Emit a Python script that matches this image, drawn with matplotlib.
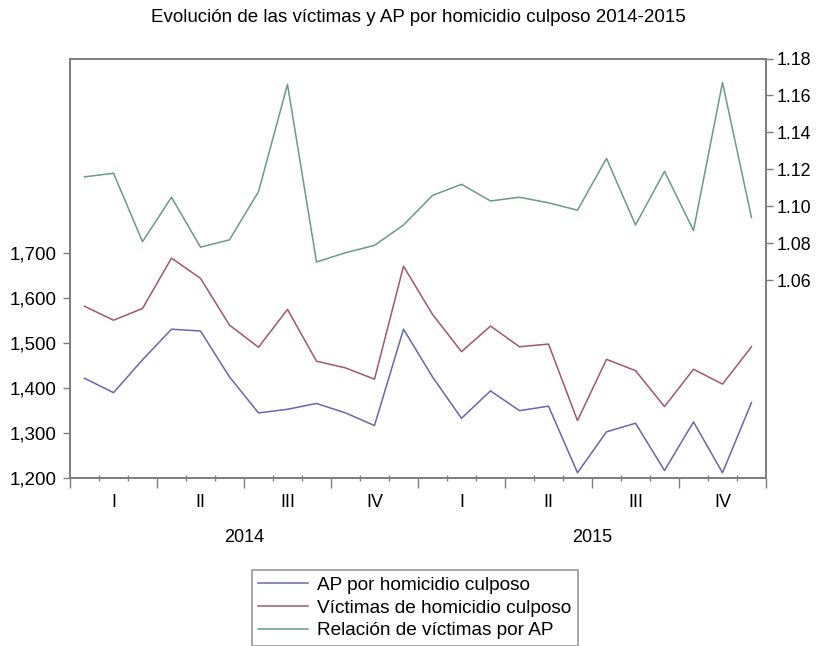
import matplotlib
matplotlib.use("Agg")
import matplotlib.pyplot as plt
import matplotlib.transforms as mtransforms
from matplotlib.ticker import FuncFormatter

plt.rcParams['font.family'] = ['Liberation Sans', 'DejaVu Sans']

# monthly data, Jan 2014 .. Dec 2015
ap = [1421, 1389, 1462, 1530, 1526, 1424, 1344, 1352, 1365, 1344, 1316, 1530,
      1424, 1332, 1393, 1349, 1359, 1211, 1302, 1321, 1216, 1324, 1211, 1367]
victimas = [1581, 1550, 1576, 1688, 1643, 1539, 1490, 1574, 1459, 1444, 1419, 1670,
            1563, 1480, 1537, 1491, 1497, 1327, 1463, 1438, 1358, 1441, 1408, 1491]
relacion = [1.116, 1.118, 1.081, 1.105, 1.078, 1.082, 1.108, 1.166, 1.070, 1.075, 1.079, 1.090,
            1.106, 1.112, 1.103, 1.105, 1.102, 1.098, 1.126, 1.090, 1.119, 1.087, 1.167, 1.094]
quarters = ['I', 'II', 'III', 'IV']
years = ['2014', '2015']
labels = ['AP por homicidio culposo', 'Víctimas de homicidio culposo', 'Relación de víctimas por AP']

c_blue = '#6668ac'
c_red = '#a0586a'
c_green = '#6a9c7e'
frame = '#7f7f7f'

fig = plt.figure(figsize=(8.21, 6.46), dpi=100)
W, H = 821, 646
ax = fig.add_axes([70 / W, 1 - 477.7 / H, (766 - 70) / W, (477.7 - 58.5) / H])
ax2 = ax.twinx()

x = [i + 0.5 for i in range(len(ap))]
l1, = ax.plot(x, ap, color=c_blue, lw=1.1)
l2, = ax.plot(x, victimas, color=c_red, lw=1.1)
l3, = ax2.plot(x, relacion, color=c_green, lw=1.1)

ax.set_xlim(0, 24)
ax.set_ylim(1200, 2131.6)
ax2.set_ylim(0.9534, 1.18)

ax.set_yticks([1200, 1300, 1400, 1500, 1600, 1700])
ax.yaxis.set_major_formatter(FuncFormatter(lambda v, p: f'{int(v):,}'))
ax2.set_yticks([1.06, 1.08, 1.10, 1.12, 1.14, 1.16, 1.18])
ax2.yaxis.set_major_formatter(FuncFormatter(lambda v, p: f'{v:.2f}'))

ax.set_xticks(range(0, 25, 3))
ax.set_xticklabels([])
ax.set_xticks(range(0, 25), minor=True)
ax.tick_params(axis='x', which='major', direction='out', length=7, width=1, color=frame)
ax.tick_params(axis='x', which='minor', direction='inout', length=5, width=1, color=frame)
ax.tick_params(axis='y', direction='out', length=5, width=1, color=frame, labelsize=13.5, pad=4.5)
ax2.tick_params(axis='y', direction='out', length=5, width=1, color=frame, labelsize=12.8, pad=3)

for a in (ax, ax2):
    for s in a.spines.values():
        s.set_color(frame)
        s.set_linewidth(1.3)

trans = mtransforms.blended_transform_factory(ax.transData, ax.transAxes)
for i in range(8):
    ax.text(i * 3 + 1.5, -25 / 419.2, quarters[i % 4], transform=trans,
            ha='center', va='center', fontsize=13)
for j, yr in enumerate(years):
    ax.text(j * 12 + 6, -60 / 419.2, yr, transform=trans,
            ha='center', va='center', fontsize=13)

fig.text(418 / W, 1 - 17 / H, 'Evolución de las víctimas y AP por homicidio culposo 2014-2015',
         ha='center', va='center', fontsize=13.5)

leg = fig.legend([l1, l2, l3], labels, loc='upper left',
                 bbox_to_anchor=(251.7 / W, 1 - 570 / H), borderaxespad=0,
                 fontsize=13.7, frameon=True, fancybox=False, handlelength=2.6,
                 handletextpad=0.5, labelspacing=0.28, borderpad=0.35)
leg.get_frame().set_edgecolor(frame)
leg.get_frame().set_linewidth(1.2)

fig.savefig('out.png', dpi=100)
